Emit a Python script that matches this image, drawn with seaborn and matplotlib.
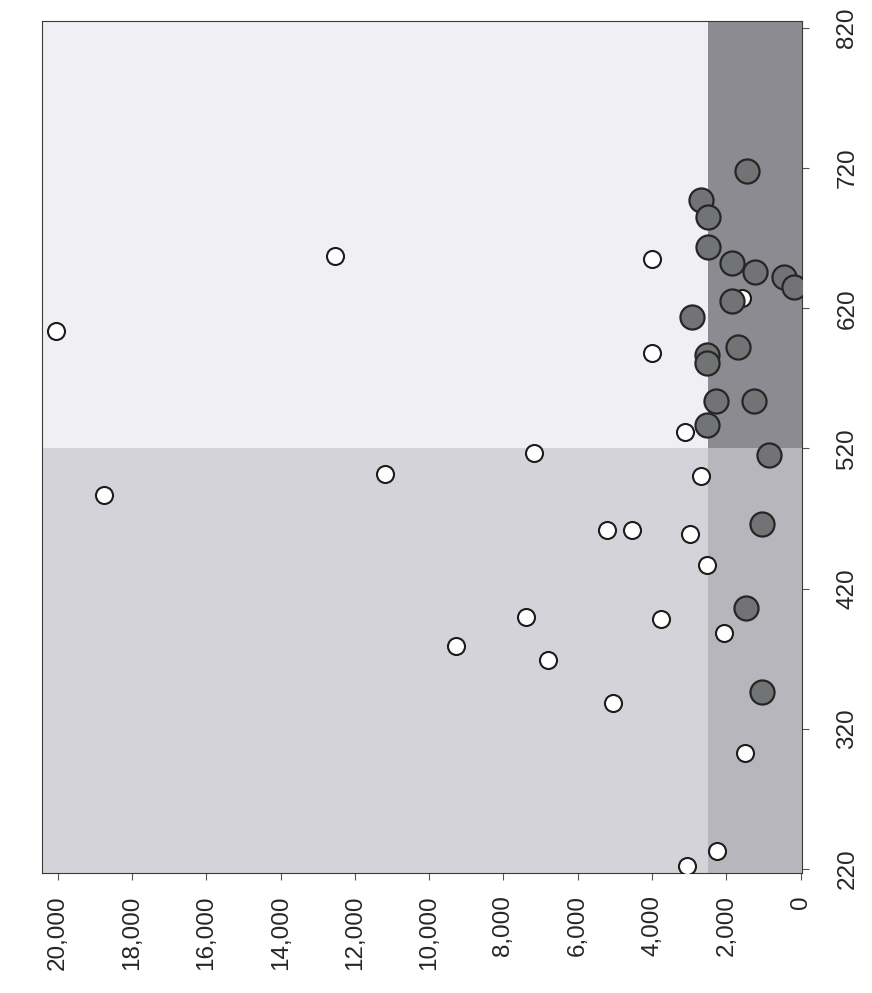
import numpy as np
import pandas as pd
import matplotlib
matplotlib.use("Agg")
import matplotlib.pyplot as plt
from matplotlib.patches import Rectangle
from matplotlib.ticker import FuncFormatter
import seaborn as sns

# open (white) points: value on the horizontal axis, score on the vertical axis
white_value = [20050, 18750, 12540, 11190, 7170, 2680, 5200, 4530, 2980, 2530,
               7400, 3770, 9280, 6810, 5050, 2050, 1500, 2260, 3050, 4010,
               4010, 3100, 1590]
white_score = [604, 487, 657, 502, 517, 500, 462, 462, 459, 437,
               400, 398, 379, 369, 338, 388, 303, 233, 222, 655,
               588, 532, 627]

# filled (dark) points
dark_value = [1450, 2690, 2500, 2500, 1860, 1240, 440, 170, 1860, 2930,
              1680, 2510, 2510, 2280, 1260, 2510, 850, 1030, 1470, 1050]
dark_score = [718, 697, 685, 664, 652, 646, 642, 635, 625, 614,
              592, 587, 581, 554, 554, 537, 515, 466, 406, 346]

value_split = 2500
score_split = 520

value_ticks = list(range(0, 20001, 2000))
score_ticks = list(range(220, 821, 100))

white_df = pd.DataFrame({"value": white_value, "score": white_score})
dark_df = pd.DataFrame({"value": dark_value, "score": dark_score})

sns.set_style("white")
plt.rcParams['font.family'] = ['Liberation Sans', 'DejaVu Sans']

fig = plt.figure(figsize=(8.72, 9.93), dpi=100)
ax = fig.add_axes([0.0482, 0.1208, 0.8712, 0.8581])

x_lo, x_hi = -30, 20425
y_lo, y_hi = 217, 825
ax.set_xlim(x_hi, x_lo)
ax.set_ylim(y_lo, y_hi)

# shaded quadrants
quads = [
    (value_split, x_hi, score_split, y_hi, '#efeff4'),
    (value_split, x_hi, y_lo, score_split, '#d3d3d9'),
    (x_lo, value_split, y_lo, score_split, '#b6b6bc'),
    (x_lo, value_split, score_split, y_hi, '#8b8b91'),
]
for x0, x1, y0, y1, c in quads:
    ax.add_patch(Rectangle((x0, y0), x1 - x0, y1 - y0, facecolor=c,
                           edgecolor='none', zorder=0))

sns.scatterplot(data=white_df, x="value", y="score", ax=ax, s=150,
                color='white', edgecolor='#1c1c1c', linewidth=1.5, zorder=3)
sns.scatterplot(data=dark_df, x="value", y="score", ax=ax, s=300,
                color='#717375', edgecolor='#262626', linewidth=1.6, zorder=4)

ax.set_xlabel("")
ax.set_ylabel("")
ax.set_xticks(value_ticks)
ax.xaxis.set_major_formatter(FuncFormatter(lambda v, p: f"{int(v):,}"))
ax.set_yticks(score_ticks)
ax.yaxis.tick_right()

ax.tick_params(axis='x', which='major', direction='out', length=5, width=0.8,
               color='#555555', pad=11, labelsize=17.5, labelrotation=90,
               bottom=True)
ax.tick_params(axis='y', which='major', direction='out', length=5, width=0.8,
               color='#555555', pad=20, labelsize=17.5, labelrotation=90,
               right=True, left=False)
for lab in ax.get_xticklabels():
    lab.set_va('top')
    lab.set_ha('center')
for lab in ax.get_yticklabels():
    lab.set_va('center')
    lab.set_ha('left')

for sp in ax.spines.values():
    sp.set_visible(True)
    sp.set_color('#3a3a3a')
    sp.set_linewidth(0.8)

fig.savefig("out.png", dpi=100)
